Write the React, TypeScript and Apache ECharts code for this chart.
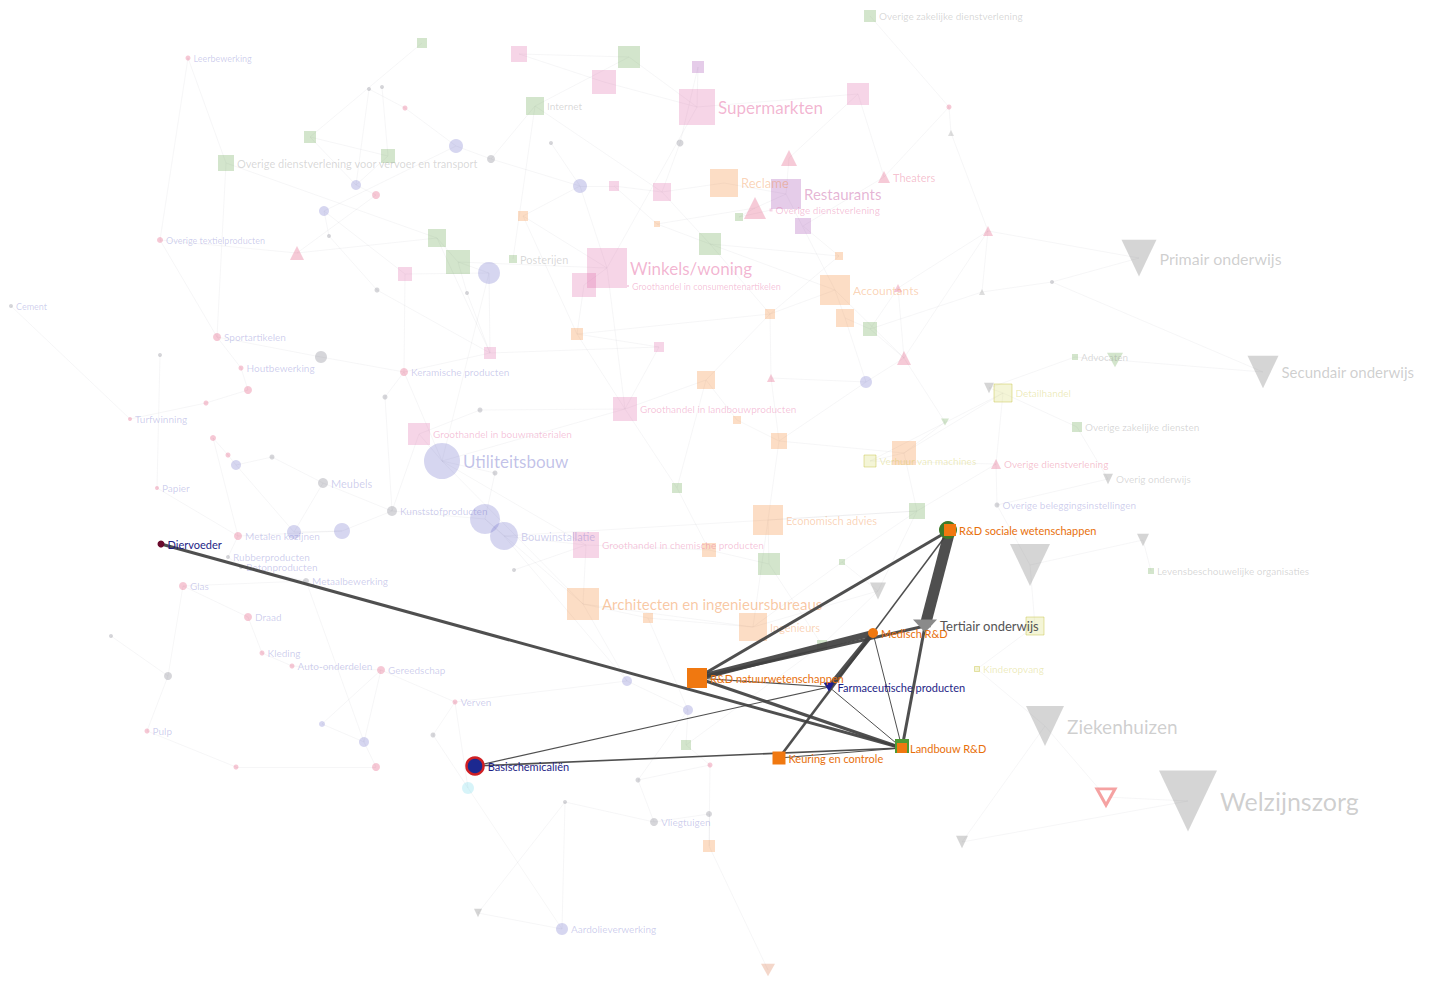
import React, { useEffect, useRef } from "react";
import * as echarts from "echarts";

// ---------- DATA ----------
// background nodes: [label, x, y, weight(size), group, labelSize]
const bgNodes: [string, number, number, number, string, number][] = [
  ["Leerbewerking", 188, 58, 5, "pinkC", 9], //0
  ["", 422, 43, 10, "greenS", 0], //1
  ["", 369, 89, 4, "grayC", 0], //2
  ["", 382, 87, 4, "grayC", 0], //3
  ["", 405, 108, 5, "pinkC", 0], //4
  ["", 310, 137, 12, "greenS", 0], //5
  ["", 388, 156, 14, "greenS", 0], //6
  ["", 456, 146, 14, "lavC", 0], //7
  ["Overige dienstverlening voor vervoer en transport", 226, 163, 16, "greenS", 11], //8
  ["", 356, 185, 10, "lavC", 0], //9
  ["", 376, 195, 8, "pinkC", 0], //10
  ["", 324, 211, 10, "lavC", 0], //11
  ["Overige textielproducten", 160, 240, 6, "pinkC", 9], //12
  ["", 297, 253, 14, "pinkT", 0], //13
  ["", 329, 236, 4, "grayC", 0], //14
  ["", 437, 238, 18, "greenS", 0], //15
  ["", 458, 262, 24, "greenS", 0], //16
  ["Posterijen", 513, 259, 8, "greenS", 11], //17
  ["", 489, 273, 22, "lavC", 0], //18
  ["", 405, 274, 14, "pinkS", 0], //19
  ["", 377, 290, 5, "grayC", 0], //20
  ["", 467, 293, 4, "grayC", 0], //21
  ["Cement", 11, 306, 4, "grayC", 9], //22
  ["", 519, 54, 16, "pinkS", 0], //23
  ["", 629, 57, 22, "greenS", 0], //24
  ["", 604, 82, 24, "pinkS", 0], //25
  ["", 698, 67, 12, "magS", 0], //26
  ["Internet", 535, 106, 18, "greenS", 10], //27
  ["Supermarkten", 697, 107, 36, "pinkS", 17], //28
  ["", 858, 94, 22, "pinkS", 0], //29
  ["Overige zakelijke dienstverlening", 870, 16, 12, "greenS", 10], //30
  ["", 551, 143, 4, "grayC", 0], //31
  ["", 680, 143, 7, "grayC", 0], //32
  ["", 789, 158, 16, "pinkT", 0], //33
  ["", 491, 159, 8, "grayC", 0], //34
  ["", 580, 186, 14, "lavC", 0], //35
  ["", 614, 186, 10, "pinkS", 0], //36
  ["", 662, 192, 18, "pinkS", 0], //37
  ["Reclame", 724, 183, 28, "orangeS", 13], //38
  ["Restaurants", 786, 194, 30, "magS", 15], //39
  ["Overige dienstverlening", 771, 210, 3, "pinkS", 10], //40
  ["", 755, 208, 22, "pinkT", 0], //41
  ["", 739, 217, 8, "greenS", 0], //42
  ["", 803, 226, 16, "magS", 0], //43
  ["Theaters", 884, 177, 12, "pinkT", 11], //44
  ["", 949, 107, 5, "pinkC", 0], //45
  ["", 951, 133, 6, "grayT", 0], //46
  ["", 523, 216, 10, "orangeS", 0], //47
  ["", 657, 224, 6, "orangeS", 0], //48
  ["", 710, 244, 22, "greenS", 0], //49
  ["Winkels/woning", 607, 268, 40, "pinkS", 17], //50
  ["", 584, 285, 24, "pinkS", 0], //51
  ["Groothandel in consumentenartikelen", 628, 286, 2, "pinkS", 9], //52
  ["Accountants", 835, 290, 30, "orangeS", 12], //53
  ["", 845, 318, 18, "orangeS", 0], //54
  ["", 870, 329, 14, "greenS", 0], //55
  ["", 898, 288, 8, "pinkT", 0], //56
  ["", 839, 256, 8, "orangeS", 0], //57
  ["", 988, 231, 10, "pinkT", 0], //58
  ["", 982, 292, 6, "grayT", 0], //59
  ["", 1052, 282, 4, "grayC", 0], //60
  ["Primair onderwijs", 1139, 258, 35, "eduT", 16], //61
  ["", 770, 314, 10, "orangeS", 0], //62
  ["", 577, 334, 12, "orangeS", 0], //63
  ["", 659, 347, 10, "pinkS", 0], //64
  ["", 490, 353, 12, "pinkS", 0], //65
  ["Sportartikelen", 217, 337, 8, "pinkC", 10], //66
  ["", 321, 357, 12, "grayC", 0], //67
  ["Houtbewerking", 241, 368, 5, "pinkC", 10], //68
  ["", 248, 390, 8, "pinkC", 0], //69
  ["", 206, 403, 5, "pinkC", 0], //70
  ["", 160, 355, 4, "grayC", 0], //71
  ["Keramische producten", 404, 372, 8, "pinkC", 10], //72
  ["", 385, 397, 5, "grayC", 0], //73
  ["Turfwinning", 130, 419, 4, "pinkC", 10], //74
  ["", 213, 438, 6, "pinkC", 0], //75
  ["", 228, 455, 5, "pinkC", 0], //76
  ["", 236, 465, 10, "lavC", 0], //77
  ["", 272, 457, 5, "grayC", 0], //78
  ["Papier", 157, 488, 4, "pinkC", 10], //79
  ["Meubels", 323, 483, 10, "grayC", 11], //80
  ["Kunststofproducten", 392, 511, 10, "grayC", 10], //81
  ["Groothandel in bouwmaterialen", 419, 434, 22, "pinkS", 10], //82
  ["Utiliteitsbouw", 442, 461, 36, "lavC", 17], //83
  ["", 495, 473, 5, "grayC", 0], //84
  ["", 485, 519, 30, "lavC", 0], //85
  ["Bouwinstallatie", 504, 536, 28, "lavC", 11], //86
  ["", 294, 532, 14, "lavC", 0], //87
  ["", 342, 531, 16, "lavC", 0], //88
  ["Metalen kozijnen", 238, 536, 8, "pinkC", 10], //89
  ["Rubberproducten", 228, 557, 4, "grayC", 10], //90
  ["Betonproducten", 241, 567, 4, "grayC", 10], //91
  ["Metaalbewerking", 306, 581, 6, "grayC", 10], //92
  ["Glas", 183, 586, 8, "pinkC", 10], //93
  ["Draad", 248, 617, 8, "pinkC", 10], //94
  ["", 111, 636, 4, "grayC", 0], //95
  ["Kleding", 262, 653, 5, "pinkC", 10], //96
  ["Auto-onderdelen", 292, 666, 5, "pinkC", 10], //97
  ["Gereedschap", 381, 670, 8, "pinkC", 10], //98
  ["Verven", 455, 702, 5, "pinkC", 10], //99
  ["", 168, 676, 8, "grayC", 0], //100
  ["", 322, 724, 6, "lavC", 0], //101
  ["", 364, 742, 10, "lavC", 0], //102
  ["", 376, 767, 8, "pinkC", 0], //103
  ["", 236, 767, 5, "pinkC", 0], //104
  ["Pulp", 147, 731, 5, "pinkC", 10], //105
  ["", 433, 735, 5, "grayC", 0], //106
  ["", 468, 788, 12, "cyanC", 0], //107
  ["", 514, 570, 4, "grayC", 0], //108
  ["Groothandel in chemische producten", 586, 545, 26, "pinkS", 10], //109
  ["Architecten en ingenieursbureaus", 583, 604, 32, "orangeS", 15], //110
  ["", 648, 618, 10, "orangeS", 0], //111
  ["Ingenieurs", 753, 627, 28, "orangeS", 11], //112
  ["Economisch advies", 768, 520, 30, "orangeS", 11], //113
  ["", 769, 564, 22, "greenS", 0], //114
  ["", 709, 550, 14, "orangeS", 0], //115
  ["", 677, 488, 10, "greenS", 0], //116
  ["Groothandel in landbouwproducten", 625, 409, 24, "pinkS", 10], //117
  ["", 480, 410, 5, "grayC", 0], //118
  ["", 706, 380, 18, "orangeS", 0], //119
  ["", 737, 420, 8, "orangeS", 0], //120
  ["", 779, 441, 16, "orangeS", 0], //121
  ["", 771, 378, 8, "pinkT", 0], //122
  ["", 866, 382, 12, "lavC", 0], //123
  ["", 904, 358, 14, "pinkT", 0], //124
  ["", 945, 422, 8, "greenT", 0], //125
  ["", 904, 453, 24, "orangeS", 0], //126
  ["Verhuur van machines", 870, 461, 12, "yelS", 10], //127
  ["Overige dienstverlening", 996, 464, 10, "pinkT", 10], //128
  ["", 917, 511, 16, "greenS", 0], //129
  ["", 842, 562, 6, "greenS", 0], //130
  ["", 878, 591, 16, "eduT", 0], //131
  ["", 822, 645, 10, "greenS", 0], //132
  ["", 686, 745, 10, "greenS", 0], //133
  ["", 710, 765, 5, "pinkC", 0], //134
  ["", 638, 780, 5, "grayC", 0], //135
  ["", 688, 710, 10, "lavC", 0], //136
  ["", 627, 681, 10, "lavC", 0], //137
  ["", 565, 802, 4, "grayC", 0], //138
  ["Vliegtuigen", 654, 822, 8, "grayC", 10], //139
  ["", 709, 814, 6, "grayC", 0], //140
  ["", 709, 846, 12, "orangeS", 0], //141
  ["Aardolieverwerking", 562, 929, 12, "lavC", 10], //142
  ["", 478, 913, 8, "eduT", 0], //143
  ["", 768, 970, 14, "oraT", 0], //144
  ["", 962, 842, 12, "eduT", 0], //145
  ["Detailhandel", 1003, 393, 18, "yelS", 10], //146
  ["", 989, 388, 10, "eduT", 0], //147
  ["Advocaten", 1075, 357, 6, "greenS", 10], //148
  ["", 1115, 360, 16, "greenT", 0], //149
  ["Secundair onderwijs", 1263, 372, 31, "eduT", 15], //150
  ["Overige zakelijke diensten", 1077, 427, 10, "greenS", 10], //151
  ["Overig onderwijs", 1108, 479, 10, "eduT", 10], //152
  ["Overige beleggingsinstellingen", 997, 505, 5, "grayC", 10], //153
  ["", 1030, 565, 40, "eduT", 0], //154
  ["", 1143, 540, 12, "eduT", 0], //155
  ["Levensbeschouwelijke organisaties", 1151, 571, 6, "greenS", 10], //156
  ["", 1035, 626, 18, "yelS", 0], //157
  ["Kinderopvang", 977, 669, 5, "yelS", 10], //158
  ["Ziekenhuizen", 1045, 726, 38, "eduT", 19], //159
  ["", 1106, 797, 18, "redT", 0], //160
  ["Welzijnszorg", 1188, 801, 58, "eduT", 25], //161
];

// faint background connections: [from, to] (indices into bgNodes)
const bgLinks: [number, number][] = [
  [0, 12], [0, 8], [2, 4], [3, 6], [4, 7], [5, 6], [6, 9], [7, 11], [8, 15], [9, 10],
  [10, 13], [11, 14], [12, 66], [13, 15], [15, 16], [16, 18], [17, 27], [18, 19], [20, 65], [21, 16],
  [23, 25], [24, 27], [25, 28], [26, 28], [27, 34], [28, 29], [29, 33], [30, 45], [31, 35], [32, 37],
  [33, 39], [34, 35], [35, 36], [36, 37], [37, 38], [38, 39], [39, 41], [41, 42], [43, 44], [44, 45],
  [45, 46], [46, 58], [47, 50], [48, 49], [49, 53], [50, 51], [51, 63], [53, 54], [54, 55], [55, 56],
  [56, 58], [58, 59], [59, 60], [60, 61], [62, 63], [63, 64], [64, 65], [66, 67], [66, 68], [68, 69],
  [69, 70], [70, 74], [71, 79], [72, 73], [72, 65], [75, 76], [76, 77], [77, 78], [78, 80], [79, 89],
  [80, 81], [81, 82], [82, 83], [83, 84], [84, 85], [85, 86], [86, 109], [87, 88], [88, 89], [89, 90],
  [90, 91], [91, 92], [92, 93], [93, 94], [94, 96], [95, 100], [96, 97], [97, 98], [98, 99], [99, 107],
  [100, 105], [101, 102], [102, 103], [103, 104], [106, 107], [108, 109], [109, 110], [110, 111], [111, 112], [112, 113],
  [113, 114], [114, 115], [115, 116], [116, 117], [117, 118], [119, 120], [120, 121], [121, 122], [122, 123], [123, 124],
  [124, 125], [125, 126], [126, 127], [127, 128], [128, 129], [129, 130], [130, 131], [131, 132], [133, 134], [134, 135],
  [135, 136], [136, 137], [138, 139], [139, 140], [140, 141], [142, 143], [142, 138], [144, 141], [145, 161], [146, 147],
  [147, 148], [148, 149], [149, 150], [146, 151], [151, 152], [152, 153], [153, 154], [154, 155], [155, 156], [154, 157],
  [157, 158], [158, 159], [159, 160], [160, 161], [83, 110], [50, 117], [28, 50], [39, 53], [61, 58], [22, 74],
  [107, 142], [86, 113], [8, 66], [72, 83], [80, 87], [117, 119], [119, 62], [121, 126], [113, 129], [53, 124],
  [18, 65], [35, 50], [47, 63], [110, 137], [137, 99], [136, 133], [98, 102], [85, 81], [118, 82], [64, 117],
  [49, 57], [57, 62], [123, 121], [126, 146], [146, 128], [131, 112], [114, 132], [7, 34], [9, 2], [13, 12],
  [145, 159], [143, 138], [1, 5], [23, 24], [26, 32], [41, 48], [56, 124], [58, 124], [59, 55], [60, 150],
  [67, 72], [73, 81], [75, 89], [77, 87], [88, 81], [92, 102], [101, 98], [106, 99], [104, 105], [100, 93],
  [83, 117], [83, 109], [85, 110], [86, 137], [109, 115], [110, 112], [111, 136], [113, 121], [116, 119], [63, 117],
  [19, 72], [16, 50], [18, 83], [15, 65], [27, 37], [24, 28], [37, 49], [49, 62], [53, 62], [54, 123],
  [55, 124], [126, 129], [127, 146], [128, 153], [129, 113], [130, 112], [131, 129], [132, 133], [134, 141], [135, 139],
  [14, 20], [11, 19], [21, 65], [9, 5], [36, 48], [47, 35], [40, 42], [43, 57], [29, 44], [122, 62],
];

// highlighted nodes: [label, x, y, weight(size), group, labelSize]
const hlNodes: [string, number, number, number, string, number][] = [
  ["", 948, 530, 18, "hlGreen", 0],
  ["", 902, 746, 14, "hlGreenS", 0],
  ["Diervoeder", 161, 544, 7, "hlFeed", 11],
  ["Basischemicaliën", 475, 766, 17, "hlChem", 11],
  ["Farmaceutische producten", 829, 687, 11, "hlPharma", 11],
  ["R&D natuurwetenschappen", 697, 678, 20, "hlOrangeS", 11],
  ["Medisch R&D", 873, 633, 10, "hlOrangeC", 11],
  ["R&D sociale wetenschappen", 950, 530, 12, "hlOrangeS", 11],
  ["Tertiair onderwijs", 925, 626, 24, "hlEdu", 13],
  ["Landbouw R&D", 902, 748, 10, "hlOrangeS", 11],
  ["Keuring en controle", 779, 758, 13, "hlOrangeS", 11],
];

// highlighted connections: [from, to, strength]
const hlLinks: [string, string, number][] = [
  ["Diervoeder", "Landbouw R&D", 3],
  ["Basischemicaliën", "Farmaceutische producten", 1.2],
  ["Basischemicaliën", "Landbouw R&D", 1.6],
  ["R&D natuurwetenschappen", "R&D sociale wetenschappen", 3],
  ["R&D natuurwetenschappen", "Medisch R&D", 6],
  ["R&D natuurwetenschappen", "Tertiair onderwijs", 3],
  ["R&D natuurwetenschappen", "Landbouw R&D", 3.2],
  ["R&D natuurwetenschappen", "Farmaceutische producten", 1.2],
  ["Medisch R&D", "Farmaceutische producten", 5],
  ["Keuring en controle", "Medisch R&D", 2.6],
  ["R&D sociale wetenschappen", "Medisch R&D", 1.5],
  ["R&D sociale wetenschappen", "Tertiair onderwijs", 11],
  ["Tertiair onderwijs", "Landbouw R&D", 3],
  ["Medisch R&D", "Landbouw R&D", 1],
  ["Farmaceutische producten", "Landbouw R&D", 1],
  ["Keuring en controle", "Landbouw R&D", 1.2],
];

// ---------- STYLES ----------
const DOWN = "path://M0,0L10,0L5,9Z";
const rgba = (hex: string, a: number) => {
  const n = parseInt(hex.slice(1), 16);
  return `rgba(${n >> 16},${(n >> 8) & 255},${n & 255},${a})`;
};

type GS = { symbol: string; color: string; border?: string; bw?: number; label: string; tall?: number };
const groups: Record<string, GS> = {
  lavC: { symbol: "circle", color: "#6a6ac8", label: "#6a6ac8" },
  pinkC: { symbol: "circle", color: "#e03a68", label: "#6a6ac8" },
  grayC: { symbol: "circle", color: "#6a6a7a", label: "#6a6ac8" },
  greenS: { symbol: "rect", color: "#62a048", label: "#888888" },
  orangeS: { symbol: "rect", color: "#f5842f", label: "#f07a20" },
  pinkS: { symbol: "rect", color: "#e068a8", label: "#e04a90" },
  magS: { symbol: "rect", color: "#a048b0", label: "#c04a98" },
  pinkT: { symbol: "triangle", color: "#e0406e", label: "#e0406e" },
  grayT: { symbol: "triangle", color: "#8a8a8a", label: "#888888" },
  greenT: { symbol: DOWN, color: "#62a048", label: "#888888", tall: 0.9 },
  eduT: { symbol: DOWN, color: "#8a8a8a", label: "#8a8a8a", tall: 1.05 },
  yelS: { symbol: "rect", color: "#d8dc70", border: "#c8c040", bw: 1, label: "#c8c030" },
  cyanC: { symbol: "circle", color: "#70d8e8", label: "#70d8e8" },
  oraT: { symbol: DOWN, color: "#d87040", label: "#d87040", tall: 0.9 },
  redT: { symbol: DOWN, color: "#ffffff", border: "#e83030", bw: 3, label: "#e83030", tall: 0.9 },
  hlGreen: { symbol: "circle", color: "#3e7a2a", label: "#3e7a2a" },
  hlGreenS: { symbol: "rect", color: "#4e9a34", label: "#3e7a2a" },
  hlFeed: { symbol: "circle", color: "#6a0a2c", label: "#1e1e86" },
  hlChem: { symbol: "circle", color: "#1c2890", border: "#d02024", bw: 2.5, label: "#1e1e86" },
  hlPharma: { symbol: DOWN, color: "#1c1c90", label: "#1e1e86", tall: 0.8 },
  hlOrangeS: { symbol: "rect", color: "#f07810", label: "#e8700c" },
  hlOrangeC: { symbol: "circle", color: "#f07810", label: "#e8700c" },
  hlEdu: { symbol: DOWN, color: "#8a8a8a", label: "#555555", tall: 0.55 },
};

const makeNode = (
  n: [string, number, number, number, string, number],
  id: string,
  fillA: number,
  labelA: number
) => {
  const [label, x, y, size, g, ls] = n;
  const s = groups[g];
  return {
    name: id,
    value: [x, y],
    symbol: s.symbol,
    symbolSize: s.tall ? [size, size * s.tall] : size,
    symbolKeepAspect: false,
    itemStyle: {
      color: s.color === "#ffffff" ? "#ffffff" : rgba(s.color, fillA),
      borderColor: s.border ? rgba(s.border, Math.min(1, fillA * 1.6)) : "transparent",
      borderWidth: s.bw || 0,
    },
    label: {
      show: ls > 0,
      formatter: label,
      position: "right",
      distance: 3,
      fontFamily: "Lato",
      fontSize: ls,
      color: rgba(s.label, ls >= 14 ? Math.min(1, labelA * 1.25) : labelA),
    },
  };
};

export default function App() {
  const ref = useRef<HTMLDivElement>(null);
  useEffect(() => {
    if (!ref.current) return;
    const chart = echarts.init(ref.current, undefined, { renderer: "svg" });
    const bgData = bgNodes.map((n, i) => makeNode(n, "bg" + i, n[4] === "eduT" ? 0.36 : 0.28, 0.33));
    const hlData = hlNodes.map((n, i) => makeNode(n, n[0] || "hlx" + i, 1, 1));
    chart.setOption({
      animation: false,
      backgroundColor: "#ffffff",
      grid: { left: 0, right: 0, top: 0, bottom: 0 },
      xAxis: { type: "value", min: 0, max: 1442, show: false },
      yAxis: { type: "value", min: 0, max: 985, inverse: true, show: false },
      series: [
        {
          type: "graph",
          coordinateSystem: "cartesian2d",
          silent: true,
          z: 1,
          data: bgData,
          links: bgLinks.map(([a, b]) => ({ source: "bg" + a, target: "bg" + b })),
          lineStyle: { color: "#b8b8c4", width: 0.6, opacity: 0.22, curveness: 0 },
        },
        {
          type: "graph",
          coordinateSystem: "cartesian2d",
          silent: true,
          z: 3,
          data: hlData,
          links: hlLinks.map(([a, b, w]) => ({
            source: a,
            target: b,
            lineStyle: { width: w },
          })),
          lineStyle: { color: "#404040", opacity: 0.92, curveness: 0 },
        },
      ],
    });
    return () => chart.dispose();
  }, []);
  return (
    <div
      ref={ref}
      style={{ position: "fixed", left: 0, top: 0, width: 1442, height: 985, background: "#fff" }}
    />
  );
}
